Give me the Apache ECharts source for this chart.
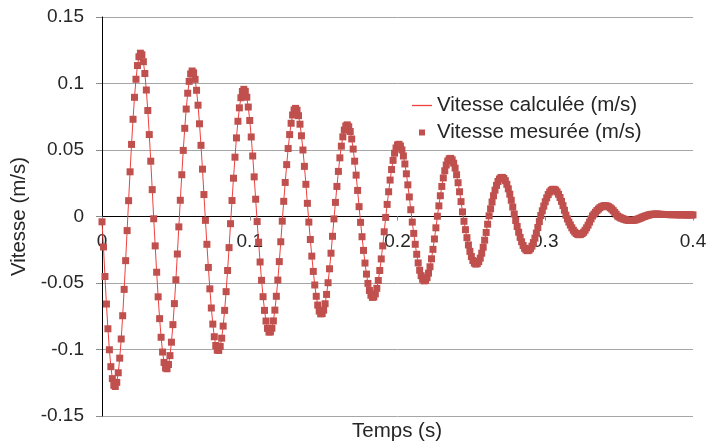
<!DOCTYPE html>
<html>
<head>
    <meta charset="UTF-8">
    <title>Vitesse</title>
    <script type="text/javascript" src="https://cdn.jsdelivr.net/npm/echarts@6.0.0/dist/echarts.min.js"></script>
    <style>html, body { margin: 0; padding: 0; background: #fff; }</style>
</head>
<body>
<div id="vitesse" style="width: 707px; height: 446px;"></div>
<script>
    // une mesure toutes les millisecondes a partir de t = 0
    var tDebut = 0;
    var pasTemps = 0.001;

    var vitesseMesuree = [
        -0.004, -0.0229, -0.0451, -0.0658, -0.0844, -0.1002, -0.1129, -0.1219, -0.1269, -0.1278, -0.1247, -0.1175, -0.1065, -0.0921, -0.0746, -0.0548, -0.0332, -0.0106,
        0.0119, 0.0336, 0.0542, 0.0731, 0.0896, 0.1032, 0.1135, 0.1201, 0.1228, 0.1216, 0.1164, 0.1075, 0.0951, 0.0797, 0.0616, 0.0416, 0.0202,
        -0.0017, -0.0221, -0.0419, -0.0604, -0.0768, -0.0908, -0.1019, -0.1097, -0.1139, -0.1145, -0.1113, -0.1046, -0.0945, -0.0813, -0.0655, -0.0476, -0.0282, -0.0078,
        0.0122, 0.0314, 0.0497, 0.0663, 0.0808, 0.0927, 0.1016, 0.1072, 0.1094, 0.1080, 0.1031, 0.0949, 0.0837, 0.0697, 0.0535, 0.0356, 0.0165,
        -0.0029, -0.0209, -0.0383, -0.0544, -0.0688, -0.0809, -0.0904, -0.0970, -0.1005, -0.1007, -0.0977, -0.0915, -0.0824, -0.0706, -0.0565, -0.0406, -0.0234, -0.0054,
        0.0120, 0.0288, 0.0446, 0.0591, 0.0716, 0.0817, 0.0893, 0.0940, 0.0956, 0.0941, 0.0897, 0.0823, 0.0722, 0.0598, 0.0455, 0.0298, 0.0130,
        -0.0038, -0.0193, -0.0342, -0.0480, -0.0603, -0.0706, -0.0786, -0.0841, -0.0869, -0.0868, -0.0840, -0.0785, -0.0704, -0.0600, -0.0478, -0.0339, -0.0190, -0.0035,
        0.0114, 0.0256, 0.0390, 0.0511, 0.0616, 0.0701, 0.0763, 0.0801, 0.0813, 0.0799, 0.0758, 0.0694, 0.0607, 0.0500, 0.0377, 0.0242, 0.0099,
        -0.0042, -0.0173, -0.0298, -0.0413, -0.0515, -0.0600, -0.0666, -0.0711, -0.0732, -0.0730, -0.0704, -0.0656, -0.0586, -0.0498, -0.0393, -0.0276, -0.0149, -0.0018,
        0.0106, 0.0226, 0.0339, 0.0441, 0.0529, 0.0599, 0.0650, 0.0681, 0.0689, 0.0675, 0.0639, 0.0583, 0.0507, 0.0416, 0.0311, 0.0196, 0.0074,
        -0.0044, -0.0152, -0.0255, -0.0350, -0.0433, -0.0503, -0.0556, -0.0592, -0.0608, -0.0605, -0.0582, -0.0540, -0.0481, -0.0406, -0.0319, -0.0221, -0.0115, -0.0007,
        0.0091, 0.0186, 0.0274, 0.0353, 0.0422, 0.0476, 0.0515, 0.0538, 0.0543, 0.0530, 0.0501, 0.0455, 0.0395, 0.0321, 0.0238, 0.0147, 0.0051,
        -0.0042, -0.0127, -0.0209, -0.0284, -0.0349, -0.0404, -0.0445, -0.0472, -0.0484, -0.0480, -0.0460, -0.0426, -0.0378, -0.0318, -0.0247, -0.0169, -0.0085,
        0.0002, 0.0080, 0.0156, 0.0226, 0.0290, 0.0344, 0.0387, 0.0417, 0.0434, 0.0437, 0.0426, 0.0401, 0.0364, 0.0314, 0.0254, 0.0186, 0.0112, 0.0035,
        -0.0036, -0.0099, -0.0159, -0.0214, -0.0262, -0.0301, -0.0331, -0.0350, -0.0358, -0.0354, -0.0339, -0.0313, -0.0276, -0.0231, -0.0178, -0.0120, -0.0058,
        0.0005, 0.0058, 0.0109, 0.0156, 0.0198, 0.0234, 0.0263, 0.0282, 0.0293, 0.0294, 0.0286, 0.0269, 0.0242, 0.0208, 0.0168, 0.0122, 0.0071, 0.0019,
        -0.0030, -0.0075, -0.0118, -0.0157, -0.0190, -0.0218, -0.0239, -0.0252, -0.0257, -0.0254, -0.0242, -0.0223, -0.0196, -0.0163, -0.0125, -0.0083, -0.0038,
        0.0007, 0.0043, 0.0078, 0.0111, 0.0140, 0.0165, 0.0184, 0.0197, 0.0204, 0.0204, 0.0198, 0.0185, 0.0167, 0.0143, 0.0114, 0.0082, 0.0047, 0.0010,
        -0.0018, -0.0042, -0.0064, -0.0085, -0.0103, -0.0117, -0.0128, -0.0135, -0.0137, -0.0135, -0.0128, -0.0118, -0.0103, -0.0085, -0.0065, -0.0042, -0.0018,
        0.0004, 0.0018, 0.0032, 0.0045, 0.0056, 0.0066, 0.0073, 0.0078, 0.0081, 0.0081, 0.0078, 0.0073, 0.0065, 0.0056, 0.0044, 0.0031, 0.0017, 0.0003,
        -0.0004, -0.0010, -0.0014, -0.0019, -0.0023, -0.0026, -0.0028, -0.0030, -0.0030, -0.0029, -0.0028, -0.0026, -0.0022, -0.0018, -0.0014, -0.0009, -0.0004,
        0.0000, 0.0004, 0.0008, 0.0011, 0.0014, 0.0016, 0.0017, 0.0018, 0.0018, 0.0018, 0.0017, 0.0016, 0.0016, 0.0015,
        0.0015, 0.0015, 0.0015, 0.0014, 0.0014, 0.0014, 0.0014, 0.0014, 0.0013, 0.0013, 0.0013, 0.0013, 0.0013, 0.0013, 0.0012, 0.0012, 0.0012, 0.0012, 0.0012, 0.0012
    ];
    // la courbe calculee se confond avec les points mesures
    var vitesseCalculee = vitesseMesuree;

    var nomCalcul = 'Vitesse calculée (m/s)';
    var nomMesure = 'Vitesse mesurée (m/s)';

    var police = "'Liberation Sans', Arial, sans-serif";
    var gris = '#262626';
    var rougeLigne = '#f0413e';
    var rougePoint = '#c0504d';

    function couples(valeurs) {
        var res = [];
        for (var i = 0; i < valeurs.length; i++) {
            res.push([tDebut + i * pasTemps, valeurs[i]]);
        }
        return res;
    }

    var myChart = echarts.init(document.getElementById('vitesse'));
    myChart.setOption({
        animation: false,
        backgroundColor: '#fff',
        textStyle: { fontFamily: police },
        title: {
            text: 'Temps (s)',
            left: 397,
            textAlign: 'center',
            top: 421,
            padding: 0,
            textStyle: { fontSize: 20.5, fontWeight: 'normal', color: gris, fontFamily: police }
        },
        grid: { left: 102, right: 14, top: 17, bottom: 30, containLabel: false, outerBoundsMode: 'none' },
        legend: {
            orient: 'vertical',
            left: 412,
            top: 95,
            padding: 0,
            itemWidth: 20,
            itemHeight: 6,
            itemGap: 6,
            textStyle: { fontSize: 20.5, color: gris, fontFamily: police },
            data: [
                { name: nomCalcul, icon: 'path://M0,0H20V1.3H0Z', itemStyle: { color: rougeLigne } },
                { name: nomMesure, icon: 'path://M0,0H10V10H0Z', itemStyle: { color: rougePoint } }
            ]
        },
        xAxis: {
            type: 'value',
            min: 0,
            max: 0.4,
            interval: 0.1,
            // axe horizontal place a la hauteur de v = 0
            offset: -199.5,
            axisLine: { onZero: false, lineStyle: { color: '#000', width: 1 } },
            axisTick: { show: true, length: 4, lineStyle: { color: '#8c8c8c' } },
            axisLabel: { fontSize: 19, color: gris, margin: 16, fontFamily: police },
            splitLine: { show: false }
        },
        yAxis: {
            type: 'value',
            min: -0.15,
            max: 0.15,
            interval: 0.05,
            name: 'Vitesse (m/s)',
            nameLocation: 'middle',
            nameGap: 68,
            nameTextStyle: { fontSize: 20.5, color: gris, fontFamily: police },
            axisLine: { show: true, lineStyle: { color: '#000', width: 1 } },
            axisTick: { show: true, length: 6, lineStyle: { color: '#8c8c8c' } },
            axisLabel: { fontSize: 19, color: gris, margin: 18, fontFamily: police },
            splitLine: { show: true, lineStyle: { color: '#a6a6a6', width: 1 } }
        },
        series: [{
            name: nomCalcul,
            type: 'line',
            data: couples(vitesseCalculee),
            symbol: 'none',
            showSymbol: false,
            lineStyle: { color: rougeLigne, width: 1 },
            itemStyle: { color: rougeLigne },
            z: 2
        }, {
            name: nomMesure,
            type: 'scatter',
            data: couples(vitesseMesuree),
            symbol: 'rect',
            symbolSize: 7,
            itemStyle: { color: rougePoint, opacity: 1 },
            z: 3
        }]
    });
</script>
</body>
</html>
